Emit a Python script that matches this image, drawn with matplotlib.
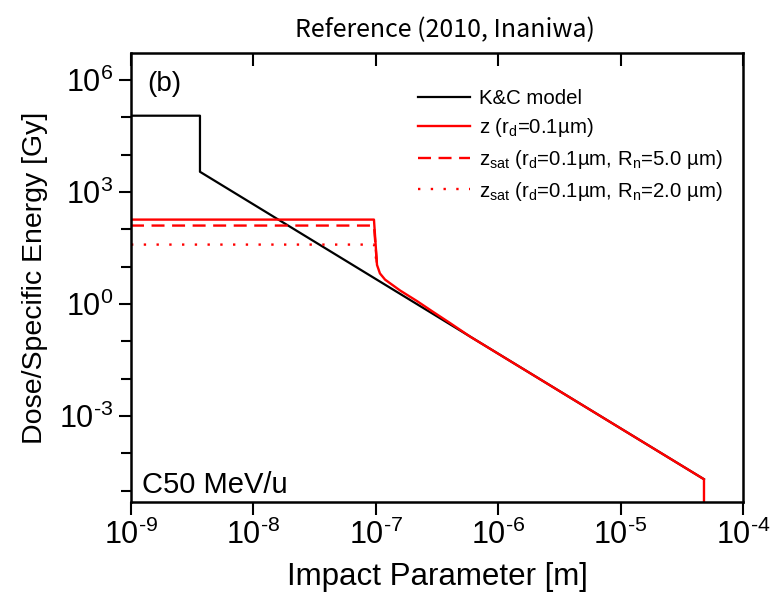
"""Dose / specific energy vs impact parameter (Inaniwa 2010, panel b)."""

import matplotlib
matplotlib.use("Agg")
import matplotlib.pyplot as plt
import numpy as np
from matplotlib.ticker import LogLocator, NullLocator, NullFormatter, FuncFormatter

plt.rcParams["font.family"] = ["Liberation Sans", "DejaVu Sans"]
plt.rcParams["mathtext.fontset"] = "custom"
plt.rcParams["mathtext.rm"] = "Liberation Sans"
plt.rcParams["mathtext.it"] = "Liberation Sans:italic"
plt.rcParams["mathtext.bf"] = "Liberation Sans:bold"

# K&C model (black)
kc_r = [1e-9, 3.66e-9, 3.66e-9, 4.8e-5]
kc_dose = [1.1e5, 1.1e5, 3.47e3, 2.04e-5]

# z (r_d = 0.1 um), solid red
z_r = [1e-9, 9.66e-8, 1.023e-7, 1.081e-7, 1.19e-7, 1.58e-7, 2.17e-7, 2.93e-7,
       4.04e-7, 5.9e-7, 4.8e-5, 4.8e-5]
z_dose = [182, 182, 11.1, 6.6, 4.5, 2.3, 1.2, 0.62,
          0.31, 0.134, 2.04e-5, 1e-6]

# z_sat with R_n = 5.0 um (dashed) and R_n = 2.0 um (dotted)
zs5_r = [1e-9, 9.66e-8, 1.023e-7]
zs5_dose = [126, 126, 11.1]
zs2_r = [1e-9, 9.66e-8, 1.023e-7]
zs2_dose = [39, 39, 11.1]

labels = [
    "K&C model",
    r"z (r$_{\rm d}$=0.1µm)",
    r"z$_{\rm sat}$ (r$_{\rm d}$=0.1µm, R$_{\rm n}$=5.0 µm)",
    r"z$_{\rm sat}$ (r$_{\rm d}$=0.1µm, R$_{\rm n}$=2.0 µm)",
]


def pow10(v, pos):
    e = str(int(round(np.log10(v)))).replace("-", "\u2010")
    return r"$\mathdefault{10^{%s}}$" % e


fig = plt.figure(figsize=(7.73, 5.93), dpi=100)
ax = fig.add_axes([131 / 773, 1 - 502 / 593, 612 / 773, 449 / 593])

ax.plot(kc_r, kc_dose, color="black", lw=1.6, label=labels[0])
ax.plot(z_r, z_dose, color="red", lw=1.7, label=labels[1])
ax.plot(zs5_r, zs5_dose, color="red", lw=1.7, dashes=(5.5, 3.2), label=labels[2])
ax.plot(zs2_r, zs2_dose, color="red", lw=1.7, dashes=(1.0, 4.4), label=labels[3])

ax.set_xscale("log")
ax.set_yscale("log")
ax.set_xlim(1e-9, 1e-4)
ax.set_ylim(10 ** -5.30, 10 ** 6.72)

ax.xaxis.set_major_locator(LogLocator(base=10, numticks=10))
ax.xaxis.set_minor_locator(NullLocator())
ax.xaxis.set_major_formatter(FuncFormatter(pow10))
ax.yaxis.set_major_locator(LogLocator(base=1000, numticks=10))
ax.yaxis.set_minor_locator(LogLocator(base=10, subs=(1.0,), numticks=20))
ax.yaxis.set_major_formatter(FuncFormatter(pow10))
ax.yaxis.set_minor_formatter(NullFormatter())

for s in ax.spines.values():
    s.set_linewidth(1.8)
ax.tick_params(which="major", direction="out", length=9, width=1.5, labelsize=22, pad=4)
ax.tick_params(which="minor", direction="out", length=7, width=1.5)
ax.tick_params(axis="y", right=False)

top = ax.twiny()
top.set_xscale("log")
top.set_xlim(ax.get_xlim())
top.xaxis.set_major_locator(LogLocator(base=10, numticks=10))
top.xaxis.set_minor_locator(NullLocator())
top.tick_params(axis="x", direction="in", length=9, width=1.5, labeltop=False)
for s in top.spines.values():
    s.set_visible(False)

ax.set_xlabel("Impact Parameter [m]", fontsize=22.5, labelpad=8)
ax.set_ylabel("Dose/Specific Energy [Gy]", fontsize=20.5, labelpad=8)

ax.text(0.026, 0.931, "(b)", transform=ax.transAxes, fontsize=20, va="center")
ax.text(0.018, 0.038, "C50 MeV/u", transform=ax.transAxes, fontsize=21, va="center")

ax.legend(loc="upper right", bbox_to_anchor=(0.966, 0.92), frameon=False, fontsize=14.7,
          handlelength=2.55, handletextpad=0.44, labelspacing=0.42,
          borderaxespad=0.0, borderpad=0.0)

fig.text(445 / 773, 1 - 30 / 593, "Reference (2010, Inaniwa)", ha="center", va="center",
         fontsize=18, family=["Noto Sans CJK KR", "DejaVu Sans"])

fig.savefig("out.png", dpi=100)
